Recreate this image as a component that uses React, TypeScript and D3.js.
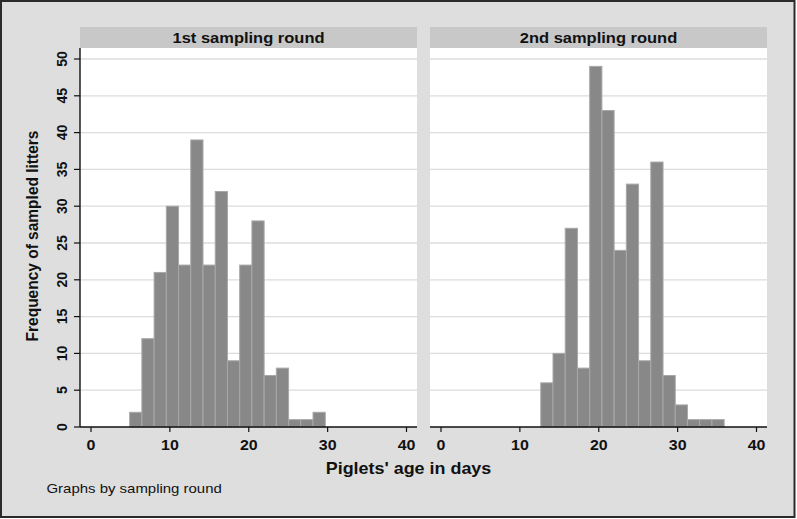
import React from "react";
import * as d3 from "d3";

// histogram data (common bins, width ~1.55 days)
const firstEdge = 4.9;
const binWidth = 1.55;
const round1Counts = [2, 12, 21, 30, 22, 39, 22, 32, 9, 22, 28, 7, 8, 1, 1, 2];
const round2FirstBin = 5;
const round2Counts = [6, 10, 27, 8, 49, 43, 24, 33, 9, 36, 7, 3, 1, 1, 1];
const panelTitles = ["1st sampling round", "2nd sampling round"];
const xTicks = [0, 10, 20, 30, 40];
const yTicks = [0, 5, 10, 15, 20, 25, 30, 35, 40, 45, 50];

const W = 797;
const H = 519;
const font = "'Liberation Sans', Arial, Helvetica, sans-serif";

const panelLeft = [80, 430];
const panelW = 337;
const stripTop = 27;
const plotTop = 48;
const plotBottom = 427;

const yScale = d3.scaleLinear().domain([0, 50]).range([plotBottom, 59]);

const panels = [
  { title: panelTitles[0], counts: round1Counts, offset: 0 },
  { title: panelTitles[1], counts: round2Counts, offset: round2FirstBin },
];

const Panel = ({ idx }: { idx: number }) => {
  const p = panels[idx];
  const x0 = panelLeft[idx];
  const xScale = d3.scaleLinear().domain([0, 40]).range([x0 + 11, x0 + 326.5]);
  const bins = p.counts.map((c, i) => {
    const lo = firstEdge + (p.offset + i) * binWidth;
    return { lo, hi: lo + binWidth, c };
  });
  return (
    <g>
      {/* strip */}
      <rect x={x0} y={stripTop} width={panelW} height={plotTop - stripTop} fill="#c8c8c8" />
      <text
        transform={`translate(${x0 + panelW / 2},43) scale(1.1,1)`}
        textAnchor="middle"
        fontFamily={font}
        fontWeight="bold"
        fontSize={15}
        fill="#111"
      >
        {p.title}
      </text>
      {/* plot area */}
      <rect x={x0} y={plotTop} width={panelW} height={plotBottom - plotTop} fill="#fff" />
      {yTicks.filter((t) => t > 0).map((t) => (
        <line key={t} x1={x0} x2={x0 + panelW} y1={yScale(t)} y2={yScale(t)} stroke="#dcdcdc" strokeWidth={1.3} />
      ))}
      {bins.map((b, i) => (
        <rect
          key={i}
          x={xScale(b.lo)}
          y={yScale(b.c)}
          width={xScale(b.hi) - xScale(b.lo)}
          height={yScale(0) - yScale(b.c)}
          fill="#888888"
          stroke="#a8a8a8"
          strokeWidth={1}
        />
      ))}
      {/* x axis */}
      <line x1={x0} x2={x0 + panelW} y1={plotBottom} y2={plotBottom} stroke="#111" strokeWidth={1.4} />
      {xTicks.map((t) => (
        <g key={t}>
          <line x1={xScale(t)} x2={xScale(t)} y1={plotBottom} y2={plotBottom + 5} stroke="#111" strokeWidth={1.2} />
          <text
            transform={`translate(${xScale(t)},449.5) scale(1.1,1)`}
            textAnchor="middle"
            fontFamily={font}
            fontWeight="bold"
            fontSize={14.5}
            fill="#111"
          >
            {t}
          </text>
        </g>
      ))}
      {/* y axis on first panel only */}
      {idx === 0 && (
        <g>
          <line x1={x0} x2={x0} y1={plotTop} y2={plotBottom} stroke="#111" strokeWidth={1.4} />
          {yTicks.map((t) => (
            <g key={t}>
              <line x1={x0 - 6} x2={x0} y1={yScale(t)} y2={yScale(t)} stroke="#111" strokeWidth={1.2} />
              <text
                transform={`translate(66.5,${yScale(t)}) rotate(-90) scale(1,1.1)`}
                textAnchor="middle"
                fontFamily={font}
                fontWeight="bold"
                fontSize={14}
                fill="#111"
              >
                {t}
              </text>
            </g>
          ))}
        </g>
      )}
    </g>
  );
};

const App = () => {
  return (
    <svg width={W} height={H} style={{ position: "absolute", left: 0, top: 0 }}>
      <rect x={1} y={1} width={793.5} height={516} fill="#dedede" stroke="#2a2a2a" strokeWidth={2} />
      <Panel idx={0} />
      <Panel idx={1} />
      <text
        transform="translate(37.5,236) rotate(-90) scale(1,1.1)"
        textAnchor="middle"
        fontFamily={font}
        fontWeight="bold"
        fontSize={15.5}
        fill="#111"
      >
        Frequency of sampled litters
      </text>
      <text
        transform="translate(408.5,474) scale(1.1,1)"
        textAnchor="middle"
        fontFamily={font}
        fontWeight="bold"
        fontSize={16.3}
        fill="#111"
      >
        Piglets' age in days
      </text>
      <text
        transform="translate(46.5,492.5) scale(1.1,1)"
        fontFamily={font}
        fontSize={13.6}
        fill="#111"
      >
        Graphs by sampling round
      </text>
    </svg>
  );
};

export default App;
